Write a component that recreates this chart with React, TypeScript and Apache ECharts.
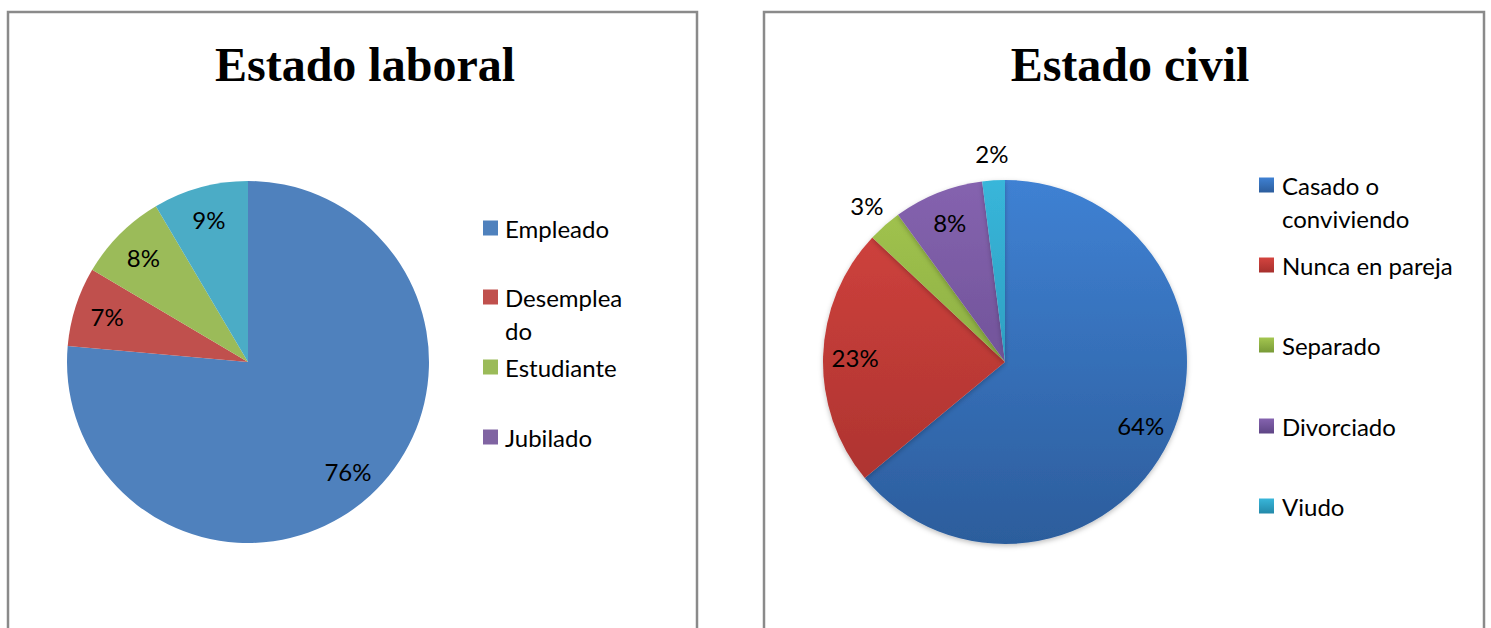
import React, { useEffect, useRef } from "react";
import * as echarts from "echarts";

const LEFT_TITLE = "Estado laboral";
const LEFT_CATS = ["Empleado", "Desempleado", "Estudiante", "Jubilado", ""];
const LEFT_VALUES = [76.4, 7.1, 8.0, 0, 8.5];
const LEFT_LEGEND = ["Empleado", "Desempleado", "Estudiante", "Jubilado"];
const LEFT_COLORS = ["#4F81BD", "#C0504D", "#9BBB59", "#8064A2", "#4BACC6"];

const RIGHT_TITLE = "Estado civil";
const RIGHT_CATS = ["Casado o conviviendo", "Nunca en pareja", "Separado", "Divorciado", "Viudo"];
const RIGHT_VALUES = [64, 23, 3, 8, 2];
const RIGHT_TOP = ["#3F81D3", "#D4443F", "#A4C650", "#8563AF", "#38B6DA"];
const RIGHT_BOTTOM = ["#2C5D9C", "#A6302D", "#789A37", "#5E4585", "#2389A9"];

const LEGEND_LINES: Record<string, string> = {
  Desempleado: "Desemplea\ndo",
  "Casado o conviviendo": "Casado o\nconviviendo",
};

const FONT = "Lato";
const FS = 24;
const LH = 33;

export default function App() {
  const ref = useRef<HTMLDivElement>(null);
  useEffect(() => {
    if (!ref.current) return;
    const chart = echarts.init(ref.current, undefined, { renderer: "svg" });

    const L = { cx: 248, cy: 362, r: 181 };
    const R = { cx: 1005, cy: 362, r: 182 };

    const grad = (i: number, local: boolean) =>
      local
        ? new echarts.graphic.LinearGradient(0, 0, 0, 1, [
            { offset: 0, color: RIGHT_TOP[i] },
            { offset: 1, color: RIGHT_BOTTOM[i] },
          ])
        : {
            type: "linear",
            x: 0,
            y: R.cy - R.r,
            x2: 0,
            y2: R.cy + R.r,
            global: true,
            colorStops: [
              { offset: 0, color: RIGHT_TOP[i] },
              { offset: 1, color: RIGHT_BOTTOM[i] },
            ],
          };

    const pctFmt = (p: any) => (p.value > 0 ? Math.round(p.percent) + "%" : "");
    const labelStyle = { color: "#000", fontFamily: FONT, fontSize: FS };
    const clear = { color: "rgba(0,0,0,0)" };

    const legendFor = (
      name: string,
      iconLeft: number,
      iconCenterY: number,
      textPad: number,
      color: any
    ) => {
      const two = !!LEGEND_LINES[name];
      const top = two ? iconCenterY - 7.5 - 42 : iconCenterY - 7.5 - 9;
      return {
        show: true,
        left: iconLeft,
        top,
        padding: 0,
        itemWidth: 15,
        itemHeight: 15,
        selectedMode: false,
        data: [{ name, icon: "rect", itemStyle: { color } }],
        formatter: (n: string) => (LEGEND_LINES[n] ? "\n" + LEGEND_LINES[n] : n),
        textStyle: {
          color: "#000",
          fontFamily: FONT,
          fontSize: FS,
          lineHeight: LH,
          padding: [0, 0, 0, textPad],
        },
      };
    };

    const leftIconY = [228, 297, 367, 437];
    const rightIconY = [185, 265, 345, 426, 506];

    const legends: any[] = [];
    LEFT_LEGEND.forEach((n, i) => {
      legends.push(legendFor(n, 483, leftIconY[i], 2, LEFT_COLORS[LEFT_CATS.indexOf(n)]));
    });
    RIGHT_CATS.forEach((n, i) => {
      legends.push(legendFor(n, 1259, rightIconY[i], 3, grad(i, true)));
    });

    chart.setOption({
      animation: false,
      graphic: [
        {
          type: "rect",
          shape: { x: 8, y: 12, width: 689, height: 660 },
          style: { fill: "none", stroke: "#8a8a8a", lineWidth: 2.5 },
          silent: true,
        },
        {
          type: "rect",
          shape: { x: 764, y: 12, width: 720, height: 660 },
          style: { fill: "none", stroke: "#8a8a8a", lineWidth: 2.5 },
          silent: true,
        },
        {
          type: "text",
          x: 365,
          y: 64,
          style: {
            text: LEFT_TITLE,
            font: "bold 48px 'Liberation Serif', 'Times New Roman', serif",
            fill: "#000",
            textAlign: "center",
            textVerticalAlign: "middle",
          },
        },
        {
          type: "text",
          x: 1130,
          y: 64,
          style: {
            text: RIGHT_TITLE,
            font: "bold 48px 'Liberation Serif', 'Times New Roman', serif",
            fill: "#000",
            textAlign: "center",
            textVerticalAlign: "middle",
          },
        },
      ],
      legend: legends,
      series: [
        {
          type: "pie",
          center: [L.cx, L.cy],
          radius: [0, L.r],
          silent: true,
          label: { show: false },
          labelLine: { show: false },
          data: LEFT_CATS.map((name, i) => ({
            name,
            value: LEFT_VALUES[i],
            itemStyle: { color: LEFT_COLORS[i] },
          })),
        },
        {
          type: "pie",
          center: [R.cx, R.cy],
          radius: [0, R.r],
          silent: true,
          label: { show: false },
          labelLine: { show: false },
          itemStyle: {
            shadowBlur: 5,
            shadowColor: "rgba(0,0,0,0.25)",
            shadowOffsetY: 2,
          },
          data: RIGHT_CATS.map((name, i) => ({
            name,
            value: RIGHT_VALUES[i],
            itemStyle: { color: grad(i, false) },
          })),
        },
        {
          type: "pie",
          center: [L.cx, L.cy],
          radius: [109, L.r],
          silent: true,
          itemStyle: clear,
          labelLine: { show: false },
          label: { show: true, position: "inside", formatter: pctFmt, ...labelStyle },
          data: LEFT_CATS.map((name, i) => ({ name, value: LEFT_VALUES[i] })),
        },
        {
          type: "pie",
          center: [R.cx, R.cy],
          radius: [112, R.r],
          silent: true,
          itemStyle: clear,
          labelLine: { show: false },
          label: {
            show: true,
            position: "inside",
            formatter: (p: any) => (p.value >= 5 ? Math.round(p.percent) + "%" : ""),
            ...labelStyle,
          },
          data: RIGHT_CATS.map((name, i) => ({ name, value: RIGHT_VALUES[i] })),
        },
        {
          type: "pie",
          center: [R.cx, R.cy],
          radius: [190, 222],
          silent: true,
          itemStyle: clear,
          labelLine: { show: false },
          label: {
            show: true,
            position: "inside",
            formatter: (p: any) => (p.value < 5 ? Math.round(p.percent) + "%" : ""),
            ...labelStyle,
          },
          data: RIGHT_CATS.map((name, i) => ({ name, value: RIGHT_VALUES[i] })),
        },
      ],
    });

    return () => chart.dispose();
  }, []);

  return (
    <div
      ref={ref}
      style={{ position: "absolute", left: 0, top: 0, width: 1491, height: 628 }}
    />
  );
}
